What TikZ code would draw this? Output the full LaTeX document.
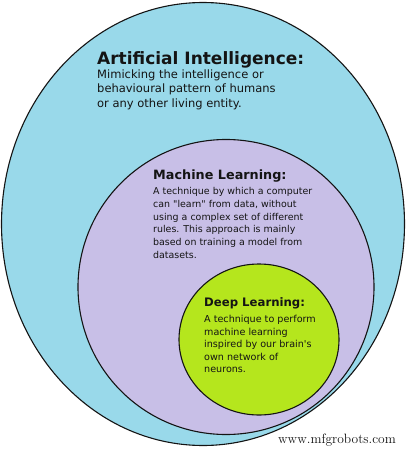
\documentclass[tikz,border=0pt]{standalone}
\usepackage{fontspec}
\newfontfamily\djv{DejaVu Sans}
\usetikzlibrary{shapes.geometric}
\definecolor{aiblue}{RGB}{153,217,234}
\definecolor{mlpurple}{RGB}{200,191,231}
\definecolor{dlgreen}{RGB}{181,230,29}
\definecolor{ink}{RGB}{20,20,20}
\begin{document}
\begin{tikzpicture}[x=1pt,y=-1pt,
  ring/.style={ellipse, draw=ink, line width=1.1pt, inner sep=0pt},
  ttl/.style={anchor=north west, inner sep=0pt, text=ink, align=left},
  body/.style={anchor=north west, inner sep=0pt, text=ink, align=left}]
\useasboundingbox (0,0) rectangle (407,450);
\fill[white] (0,0) rectangle (407,450);
\node[ring, fill=aiblue, minimum width=403pt, minimum height=443pt] (ai) at (203,224) {};
\node[ring, fill=mlpurple, minimum width=296pt, minimum height=295pt] (ml) at (226,287) {};
\node[ring, fill=dlgreen, minimum width=160pt, minimum height=151pt] (dl) at (259,339.5) {};
\node[ttl, font={\djv\bfseries\fontsize{17}{20}\selectfont}] (aiT) at (97,51.5) {Artificial Intelligence:};
\node[body, font={\djv\fontsize{11.5}{14.5}\selectfont}] (aiB) at (97,69.5) {Mimicking the intelligence or\\behavioural pattern of humans\\or any other living entity.};
\node[ttl, font={\djv\bfseries\fontsize{12.8}{15}\selectfont}] (mlT) at (153,169.5) {Machine Learning:};
\node[body, font={\djv\fontsize{9.45}{12.7}\selectfont}] (mlB) at (153,187.5) {A technique by which a computer\\can "learn" from data, without\\using a complex set of different\\rules. This approach is mainly\\based on training a model from\\datasets.};
\node[ttl, font={\djv\bfseries\fontsize{11.7}{14}\selectfont}] (dlT) at (204,297.5) {Deep Learning:};
\node[body, font={\djv\fontsize{9.6}{12.5}\selectfont}] (dlB) at (204,315.5) {A technique to perform\\machine learning\\inspired by our brain's\\own network of\\neurons.};
\node[anchor=base west, inner sep=0pt, text=ink, font={\fontsize{13.5}{16}\selectfont}] (wm) at (278,443.5) {www.mfgrobots.com};
\end{tikzpicture}
\end{document}
